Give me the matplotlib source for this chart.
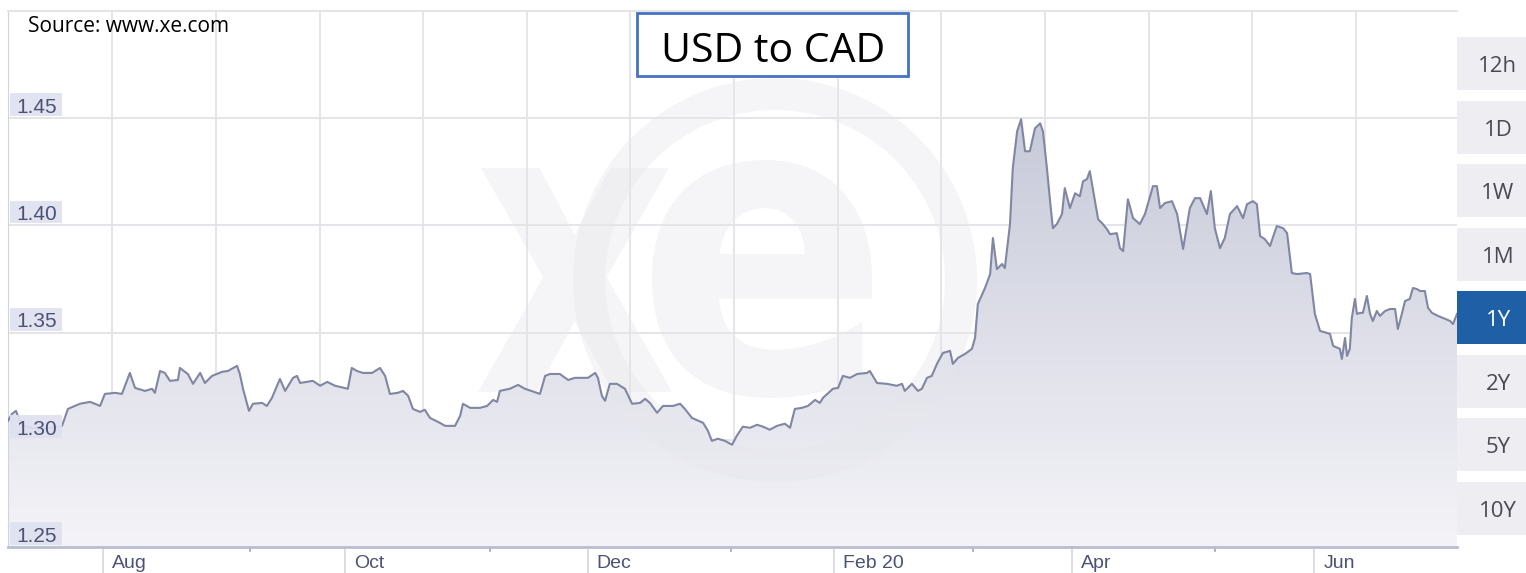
import numpy as np
import matplotlib
matplotlib.use("Agg")
import matplotlib.pyplot as plt
from matplotlib.patches import Rectangle, Polygon, Wedge, PathPatch
from matplotlib.textpath import TextPath
from matplotlib.font_manager import FontProperties
from matplotlib.transforms import Affine2D, blended_transform_factory
from matplotlib.colors import LinearSegmentedColormap

# ---------------- data (days since 2019-07-08, USD->CAD rate) ----------------
days = [0.0, 1.0, 2.0, 3.5, 8.1, 13.1, 13.6, 15.1, 18.1, 20.7, 23.2, 24.4, 27.0, 28.7,
        30.7, 32.0, 34.5, 36.3, 37.0, 38.3, 39.5, 40.8, 42.8, 43.3, 45.3, 46.6, 48.4,
        49.6, 51.4, 52.6, 53.9, 55.4, 57.7, 58.4, 59.2, 60.7, 61.7, 64.0, 65.2, 66.5,
        68.5, 69.8, 71.8, 72.8, 73.6, 76.8, 78.6, 80.4, 82.4, 85.6, 86.6, 87.9, 89.4,
        91.7, 93.7, 95.0, 96.2, 98.2, 99.5, 100.8, 102.0, 103.8, 105.0, 106.3, 108.8,
        110.1, 112.6, 113.9, 114.6, 116.4, 118.9, 120.7, 122.2, 123.2, 123.9, 126.4,
        128.5, 130.2, 133.2, 134.0, 135.3, 136.5, 139.0, 141.1, 142.8, 146.1, 147.9,
        148.6, 149.6, 150.4, 151.6, 153.4, 155.4, 157.2, 159.2, 160.5, 161.7, 163.5,
        165.0, 167.5, 169.3, 170.5, 172.3, 175.1, 176.3, 177.3, 178.8, 180.6, 182.4,
        183.6, 185.1, 186.9, 188.7, 190.2, 191.9, 193.7, 195.7, 197.0, 198.2, 200.0,
        201.5, 203.3, 204.5, 205.3, 207.8, 209.1, 210.3, 212.1, 213.9, 216.4, 217.1,
        218.9, 221.4, 223.9, 225.2, 225.9, 227.7, 229.2, 230.2, 231.5, 232.7, 234.0,
        235.5, 237.3, 238.0, 239.3, 241.1, 242.8, 243.6, 244.3, 246.1, 247.4, 248.1,
        249.1, 250.4, 251.1, 252.4, 253.1, 254.2, 255.2, 256.2, 257.4, 258.7, 260.0,
        260.7, 261.7, 262.5, 263.2, 264.2, 265.5, 266.2, 267.5, 268.8, 270.0, 270.8,
        271.8, 272.5, 273.8, 274.6, 275.8, 276.8, 277.6, 279.3, 280.1, 280.9, 282.1,
        283.4, 285.1, 286.4, 287.7, 288.4, 289.4, 290.2, 291.4, 293.2, 294.5, 296.0,
        297.7, 299.0, 300.3, 302.0, 303.0, 304.0, 305.3, 306.5, 307.8, 309.6, 311.1,
        312.1, 313.6, 314.6, 315.4, 316.6, 317.9, 319.6, 321.2, 322.2, 323.4, 324.7,
        327.2, 328.0, 329.2, 330.5, 333.0, 333.8, 335.5, 336.0, 336.8, 337.3, 338.0,
        338.5, 339.3, 339.8, 340.6, 341.3, 342.3, 343.1, 343.8, 344.8, 345.6, 346.9,
        348.1, 349.4, 350.1, 351.1, 351.9, 353.1, 353.9, 354.9, 355.7, 356.9, 357.7,
        358.7, 360.2, 362.0, 363.3, 364.0, 365.0]
rates = [1.3088, 1.3121, 1.3135, 1.3065, 1.3051, 1.3061, 1.3065, 1.3144, 1.3168, 1.3177,
         1.3158, 1.3214, 1.3219, 1.3214, 1.3312, 1.3242, 1.3228, 1.3238, 1.3219, 1.3321,
         1.3312, 1.3275, 1.3279, 1.3335, 1.3307, 1.3261, 1.3312, 1.3265, 1.3298, 1.3307,
         1.3317, 1.3321, 1.3345, 1.3307, 1.3238, 1.3135, 1.3168, 1.3172, 1.3158, 1.3196,
         1.3284, 1.3228, 1.3289, 1.3298, 1.3265, 1.3275, 1.3252, 1.3270, 1.3252, 1.3238,
         1.3335, 1.3321, 1.3312, 1.3312, 1.3335, 1.3298, 1.3214, 1.3219, 1.3228, 1.3205,
         1.3144, 1.3130, 1.3140, 1.3102, 1.3079, 1.3065, 1.3065, 1.3112, 1.3168, 1.3149,
         1.3149, 1.3158, 1.3186, 1.3177, 1.3228, 1.3238, 1.3256, 1.3238, 1.3219, 1.3214,
         1.3298, 1.3307, 1.3307, 1.3279, 1.3289, 1.3289, 1.3312, 1.3289, 1.3205, 1.3182,
         1.3261, 1.3261, 1.3238, 1.3168, 1.3172, 1.3191, 1.3172, 1.3126, 1.3158, 1.3158,
         1.3168, 1.3144, 1.3102, 1.3079, 1.3042, 1.2995, 1.3005, 1.2995, 1.2977, 1.3019,
         1.3061, 1.3056, 1.3070, 1.3061, 1.3047, 1.3065, 1.3075, 1.3056, 1.3144, 1.3149,
         1.3158, 1.3186, 1.3172, 1.3196, 1.3238, 1.3242, 1.3298, 1.3289, 1.3307, 1.3312,
         1.3321, 1.3265, 1.3261, 1.3252, 1.3261, 1.3228, 1.3261, 1.3228, 1.3238, 1.3289,
         1.3298, 1.3354, 1.3405, 1.3415, 1.3354, 1.3382, 1.3401, 1.3424, 1.3475, 1.3633,
         1.3708, 1.3773, 1.3941, 1.3796, 1.3820, 1.3801, 1.4006, 1.4267, 1.4439, 1.4495,
         1.4346, 1.4346, 1.4453, 1.4476, 1.4439, 1.4267, 1.4113, 1.3987, 1.4006, 1.4053,
         1.4174, 1.4081, 1.4150, 1.4136, 1.4206, 1.4216, 1.4253, 1.4113, 1.4029, 1.4006,
         1.3983, 1.3959, 1.3964, 1.3894, 1.3880, 1.4122, 1.4034, 1.4006, 1.4053, 1.4136,
         1.4183, 1.4183, 1.4081, 1.4104, 1.4113, 1.4053, 1.3890, 1.4081, 1.4127, 1.4127,
         1.4053, 1.4160, 1.3987, 1.3894, 1.3941, 1.4053, 1.4090, 1.4034, 1.4099, 1.4113,
         1.4099, 1.3950, 1.3936, 1.3904, 1.3997, 1.3987, 1.3964, 1.3778, 1.3773, 1.3778,
         1.3773, 1.3587, 1.3508, 1.3494, 1.3438, 1.3424, 1.3377, 1.3475, 1.3391, 1.3424,
         1.3568, 1.3657, 1.3587, 1.3592, 1.3592, 1.3671, 1.3587, 1.3554, 1.3601, 1.3578,
         1.3601, 1.3610, 1.3610, 1.3517, 1.3587, 1.3647, 1.3657, 1.3708, 1.3703, 1.3694,
         1.3694, 1.3615, 1.3592, 1.3578, 1.3564, 1.3554, 1.3540, 1.3587]

month_labels = ["Aug", "Oct", "Dec", "Feb 20", "Apr", "Jun"]
month_days = [24, 85, 146, 208, 268, 329]
y_ticks = [1.25, 1.30, 1.35, 1.40, 1.45]
buttons = ["12h", "1D", "1W", "1M", "1Y", "2Y", "5Y", "10Y"]
active_button = "1Y"
title = "USD to CAD"
source = "Source: www.xe.com"

# ---------------- figure ----------------
W, H = 1526, 573
fig = plt.figure(figsize=(W / 100, H / 100), dpi=100)
fig.patch.set_facecolor("white")


def fx(px):
    return px / W


def fy(py):
    return 1 - py / H


ax = fig.add_axes([fx(8), fy(547), 1449 / W, 536 / H])
ax.set_facecolor("white")

# gradient fill under the curve
verts = [(days[0], 1.25)] + list(zip(days, rates)) + [(days[-1], 1.25)]
clip = Polygon(verts, closed=True, facecolor="none", edgecolor="none")
ax.add_patch(clip)
grad = np.linspace(0, 1, 256).reshape(-1, 1)
cmap = LinearSegmentedColormap.from_list("g", ["#f4f4f8", "#bcbfd1"])
im = ax.imshow(grad, extent=[0, 365, 1.25, 1.50], origin="lower", aspect="auto",
               cmap=cmap, zorder=1, interpolation="bilinear")
im.set_clip_path(clip)

# watermark (xe logo)
wm_col = "#e6e6eb"
wm_alpha = 0.4
ring = Wedge((7.75, (H - 280) / 100), 2.02, 0, 360, width=0.32,
             transform=fig.dpi_scale_trans, facecolor=wm_col, edgecolor="none",
             alpha=wm_alpha, zorder=2)
ax.add_patch(ring)
fp_bold = FontProperties(family="DejaVu Sans", weight="bold")


def glyph(ch, box):
    tp = TextPath((0, 0), ch, size=1, prop=fp_bold)
    ext = tp.get_extents()
    x0, y0, x1, y1 = box
    sx = (x1 - x0) / 100 / ext.width
    sy = (y1 - y0) / 100 / ext.height
    tr = (Affine2D().translate(-ext.x0, -ext.y0).scale(sx, sy)
          .translate(x0 / 100, (H - y1) / 100) + fig.dpi_scale_trans)
    p = PathPatch(tp, transform=tr, facecolor=wm_col, edgecolor="none",
                  alpha=wm_alpha, zorder=2)
    ax.add_patch(p)


glyph("x", (478, 168, 672, 392))
glyph("e", (652, 160, 872, 398))

# line
ax.plot(days, rates, color="#8086a3", lw=1.5, zorder=3, solid_joinstyle="round")

ax.set_xlim(0, 365)
ax.set_ylim(1.25, 1.50)

# grid
ax.set_xticks(np.arange(26.3, 365, 26.1))
ax.set_yticks([1.30, 1.35, 1.40, 1.45, 1.50])
ax.grid(True, color="#e2e2e7", lw=1.3, zorder=0.5)
ax.set_axisbelow(True)
ax.tick_params(length=0, labelbottom=False, labelleft=False)
ax.spines["right"].set_visible(False)
ax.spines["top"].set_color("#e2e2e7")
ax.spines["top"].set_linewidth(1.3)
ax.spines["left"].set_color("#d2d3dc")
ax.spines["bottom"].set_color("#b9bdd0")
ax.spines["bottom"].set_linewidth(2)

# y labels with lavender boxes
ytr = blended_transform_factory(ax.transAxes, ax.transData)
for v in y_ticks:
    ax.add_patch(Rectangle((2 / 1449, v + 0.0009), 52 / 1449, 0.0107, transform=ytr,
                           facecolor="#e0e1ef", edgecolor="none", alpha=0.92,
                           zorder=4, clip_on=False))
    ax.text(8 / 1449, v + 0.0024, f"{v:.2f}", transform=ytr, ha="left", va="baseline",
            fontsize=15, family="Liberation Sans", color="#4c5275", zorder=5)

# x labels with separators
xtr = blended_transform_factory(ax.transData, ax.transAxes)
for d, lab in zip(month_days, month_labels):
    ax.plot([d, d], [0, -0.05], transform=xtr, color="#d6d7df", lw=1.2, clip_on=False,
            zorder=1)
    ax.text(d + 2.3, -0.04, lab, transform=xtr, ha="left", va="baseline",
            fontsize=14, family="Liberation Sans", color="#4c5275")
for d in [61, 121.5, 182, 243, 304]:
    ax.plot([d, d], [0, -0.008], transform=xtr, color="#9aa0b8", lw=1.2, clip_on=False)

# title box
fig.add_artist(Rectangle((fx(637), fy(76)), (908 - 637) / W, (76 - 13) / H,
                         transform=fig.transFigure, facecolor="white",
                         edgecolor="#4472c4", lw=2, zorder=10))
fig.text(fx(773), fy(62), title, ha="center", va="baseline", fontsize=29.5,
         family="Open Sans", color="black", zorder=11)

# source
fig.text(fx(28), fy(32), source, ha="left", va="baseline", fontsize=15,
         family="Open Sans", color="black", zorder=11)

# range buttons
tops = [37, 100.5, 164, 228, 291, 355, 418, 482]
for t, b in zip(tops, buttons):
    act = b == active_button
    fig.add_artist(Rectangle((fx(1457), fy(t + 53)), (W - 1457) / W, 53 / H,
                             transform=fig.transFigure,
                             facecolor="#1f5fa6" if act else "#eeeef2",
                             edgecolor="none", zorder=10))
    fig.text(fx(1498), fy(t + 26.5 + 8.5), b, ha="center", va="baseline", fontsize=16,
             family="Open Sans", color="white" if act else "#4a4a55", zorder=11)

fig.savefig("out.png", dpi=100, facecolor="white")
